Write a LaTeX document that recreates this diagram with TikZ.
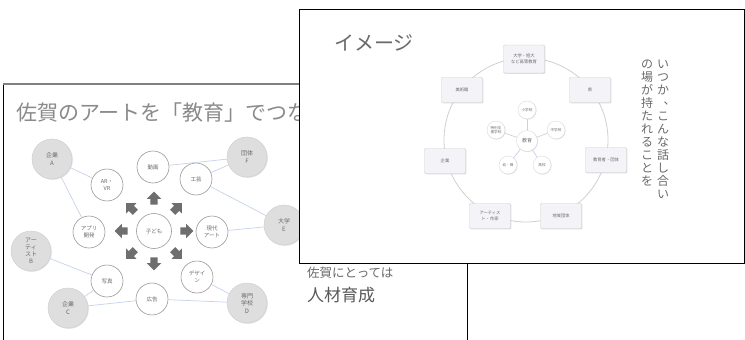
\documentclass[tikz,border=0pt]{standalone}
\usepackage{fontspec}
\setmainfont{Noto Sans CJK JP}
\usetikzlibrary{shapes.arrows,shadows}
\definecolor{titlegray}{HTML}{8A8A8A}
\definecolor{txtgray}{HTML}{6A6A6A}
\definecolor{linkblue}{HTML}{C6D2EC}
\definecolor{circgray}{HTML}{DEDEDE}
\definecolor{ringgray}{HTML}{D0D0D0}
\definecolor{boxfill}{HTML}{F4F4F8}
\definecolor{arrowgray}{HTML}{6E6E6E}
\tikzset{
  wcirc/.style={circle, draw=black!40, line width=0.6pt, fill=white, minimum size=32pt, inner sep=0pt, align=center, text=txtgray, font=\fontsize{5.5}{7}\selectfont},
  gcirc/.style={circle, draw=black!18, line width=0.5pt, fill=circgray, minimum size=40pt, inner sep=0pt, align=center, text=txtgray, font=\fontsize{6}{7.5}\selectfont, drop shadow={opacity=0.25, shadow xshift=0.8pt, shadow yshift=-0.8pt}},
  link/.style={draw=linkblue, line width=0.7pt},
  karrow/.style={single arrow, fill=arrowgray, draw=none, inner xsep=0pt, inner ysep=3.5pt, minimum height=13pt, minimum width=14pt, single arrow head extend=3.5pt, single arrow head indent=0pt},
  sbox/.style={rectangle, rounded corners=1pt, draw=black!20, line width=0.4pt, fill=boxfill, minimum width=41pt, minimum height=25pt, inner sep=1pt, align=center, text=txtgray, font=\fontsize{4.3}{6}\selectfont, drop shadow={opacity=0.25, shadow xshift=0.8pt, shadow yshift=-0.8pt}},
  scirc/.style={circle, draw=black!15, line width=0.4pt, fill=white, minimum size=18pt, inner sep=0pt, align=center, text=txtgray, font=\fontsize{3.6}{4.5}\selectfont, drop shadow={opacity=0.25, shadow xshift=0.6pt, shadow yshift=-0.6pt}},
  slink/.style={draw=linkblue, line width=0.7pt},
  vcol/.style={anchor=north, align=center, inner sep=0pt, text=txtgray, font=\fontsize{12}{13}\selectfont}
}
\newcommand{\vcomma}{\makebox[1em][l]{\hspace{0.55em}\raisebox{0.3em}{、}}}
\begin{document}
\begin{tikzpicture}[x=1pt,y=-1pt]
\useasboundingbox (0,0) rectangle (745,340);
\fill[white] (0,0) rectangle (745,340);

% ---------- slide 1 ----------
\draw[black, line width=0.8pt] (3,350) -- (3,84) -- (467,84) -- (467,350);
\draw[black!50, line width=2pt] (2.6,84) -- (300,84);
\node[anchor=west, inner sep=0pt, text=titlegray, font=\fontsize{21}{21}\selectfont] (title1) at (16,113) {佐賀のアートを「教育」でつな};

\node[wcirc] (douga) at (153,167) {動画};
\node[wcirc] (arvr) at (107,185) {AR・\\VR};
\node[wcirc] (kogei) at (196,179) {工芸};
\node[wcirc] (app) at (89,232) {アプリ\\開発};
\node[wcirc, minimum size=35pt] (kodomo) at (154,231) {子ども};
\node[wcirc] (gendai) at (212,232) {現代\\アート};
\node[wcirc] (shashin) at (107,281) {写真};
\node[wcirc] (kokoku) at (152,299) {広告};
\node[wcirc] (design) at (197,277) {デザイ\\ン};

\node[gcirc] (kigyoA) at (52,159) {企業\\A};
\node[gcirc] (dantaiF) at (247,157) {団体\\F};
\node[gcirc] (daigakuE) at (284,225) {大学\\E};
\node[gcirc, font=\fontsize{6}{7}\selectfont] (artistB) at (31,251) {アー\\ティ\\スト\\B};
\node[gcirc] (kigyoC) at (68,308) {企業\\C};
\node[gcirc] (senmonD) at (247,303) {専門\\学校\\D};

\path[link] (kigyoA) -- (arvr);
\path[link] (kigyoA) -- (app);
\path[link] (douga) -- (dantaiF);
\path[link] (kogei) -- (dantaiF);
\path[link] (kogei) -- (daigakuE);
\path[link] (gendai) -- (daigakuE);
\path[link] (artistB) -- (shashin);
\path[link] (kigyoC) -- (shashin);
\path[link] (kigyoC) -- (kokoku);
\path[link] (kokoku) -- (senmonD);
\path[link] (design) -- (senmonD);

\foreach \a in {0,45,...,315}{
  \path (kodomo.center) ++(\a:31) node[karrow, rotate=-\a] (arr\a) {};
}

\node[anchor=west, inner sep=0pt, text=txtgray, font=\fontsize{12.5}{13}\selectfont] (saga) at (307,273) {佐賀にとっては};
\node[anchor=west, inner sep=0pt, text=black!65, font=\fontsize{17}{18}\selectfont] (jinzai) at (307,295) {人材育成};

% ---------- slide 2 ----------
\draw[black, fill=white, line width=0.8pt] (299,9) rectangle (744.5,263);
\node[anchor=west, inner sep=0pt, text=txtgray, font=\fontsize{20}{20}\selectfont] (image) at (334,43) {イメージ};

\draw[ringgray, line width=0.8pt] (526,140) circle (82);

\node[sbox, minimum height=28pt] (daigaku) at (524,59) {大学・短大\\など高等教育};
\node[sbox] (bijutsu) at (462,90) {美術館};
\node[sbox] (ken) at (590,90) {県};
\node[sbox] (kigyo2) at (445,161) {企業};
\node[sbox] (kyoikusha) at (606,160) {教育者・団体};
\node[sbox] (artist2) at (490,216) {アーティス\\ト・作家};
\node[sbox] (chiiki) at (561,216) {地域団体};

\node[scirc] (sho) at (527,110) {小学校};
\node[scirc] (chu) at (556,130) {中学校};
\node[scirc] (kou) at (542,165) {高校};
\node[scirc] (you) at (508,165) {幼・保};
\node[scirc] (toku) at (496,130) {特別支\\援学校};
\node[scirc, minimum size=21pt, font=\fontsize{5}{6}\selectfont] (kyo) at (527,141) {教育};
\foreach \n in {sho,chu,kou,you,toku}{
  \path[slink] (kyo) -- (\n);
}

\node[vcol] (col1) at (663,60) {い\\つ\\か\\\vcomma\\こ\\ん\\な\\話\\し\\合\\い};
\node[vcol] (col2) at (647,60) {の\\場\\が\\持\\た\\れ\\る\\こ\\と\\を};
\end{tikzpicture}
\end{document}
